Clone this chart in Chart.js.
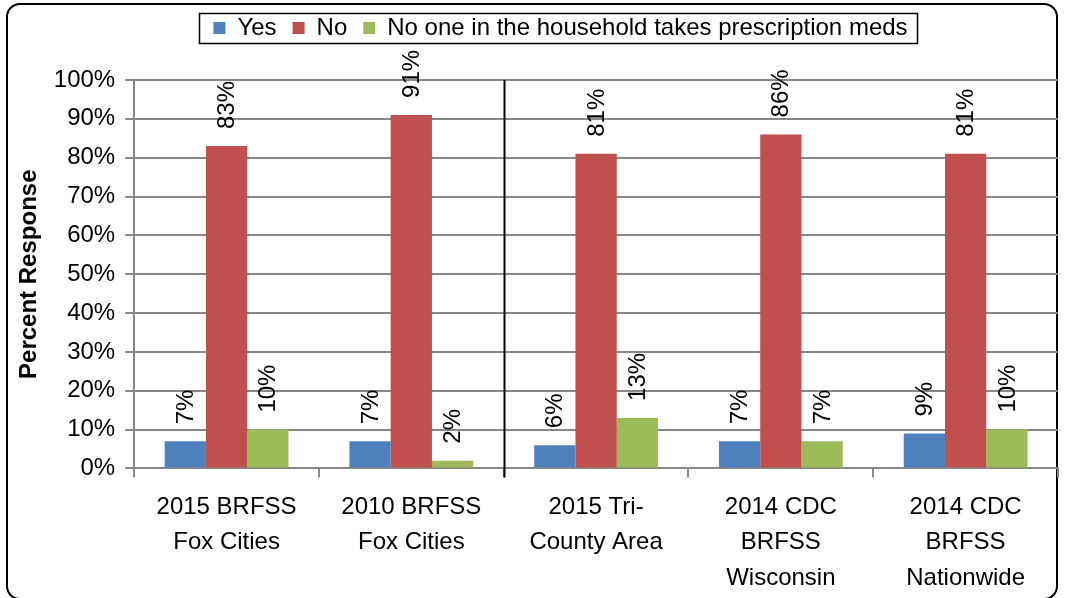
<!DOCTYPE html>
<html>
<head>
<meta charset="utf-8">
<script src="https://cdn.jsdelivr.net/npm/chart.js@4"></script>
<style>
  html, body { margin: 0; padding: 0; background: #fff; }
  #wrap { position: relative; width: 1065px; height: 598px; }
  #frame { position: absolute; left: 6px; top: 3px; width: 1052px; height: 597px;
           border: 2px solid #000; border-radius: 14px; box-sizing: border-box; }
  canvas { position: absolute; left: 0; top: 0; }
</style>
</head>
<body>
<div id="wrap">
  <div id="frame"></div>
  <canvas id="chart" width="1065" height="598"></canvas>
</div>
<script>
const categories = [
  ['2015 BRFSS', 'Fox Cities'],
  ['2010 BRFSS', 'Fox Cities'],
  ['2015 Tri-', 'County Area'],
  ['2014 CDC', 'BRFSS', 'Wisconsin'],
  ['2014 CDC', 'BRFSS', 'Nationwide']
];
const yesValues = [7, 7, 6, 7, 9];
const noValues = [83, 91, 81, 86, 81];
const noneValues = [10, 2, 13, 7, 10];
const yTicks = [0, 10, 20, 30, 40, 50, 60, 70, 80, 90, 100];

const FONT = "'Liberation Sans', 'DejaVu Sans', sans-serif";
const SIZE = 24;

// rotated value labels above each bar
const barLabels = {
  id: 'barLabels',
  afterDatasetsDraw(chart) {
    const ctx = chart.ctx;
    ctx.save();
    ctx.font = SIZE + 'px ' + FONT;
    ctx.fillStyle = '#000';
    ctx.textAlign = 'left';
    ctx.textBaseline = 'middle';
    chart.data.datasets.forEach((ds, i) => {
      chart.getDatasetMeta(i).data.forEach((bar, j) => {
        ctx.save();
        ctx.translate(bar.x + 1, bar.y - 17);
        ctx.rotate(-Math.PI / 2);
        ctx.fillText(ds.data[j] + '%', 0, 0);
        ctx.restore();
      });
    });
    ctx.restore();
  }
};

// legend sits a bit right of the canvas centre in the original
const legendShift = {
  id: 'legendShift',
  afterLayout(chart) {
    chart.legend.left += 24;
    chart.legend.right += 24;
  }
};

// border round the legend items and the black divider between group 2 and 3
const extras = {
  id: 'extras',
  afterDraw(chart) {
    const ctx = chart.ctx;
    const boxes = chart.legend.legendHitBoxes;
    const l = Math.min(...boxes.map(b => b.left)) - 14;
    const r = Math.max(...boxes.map(b => b.left + b.width)) + 10;
    const t = Math.min(...boxes.map(b => b.top)) - 3;
    const btm = Math.max(...boxes.map(b => b.top + b.height)) + 3;
    ctx.save();
    ctx.strokeStyle = '#000';
    ctx.lineWidth = 1.5;
    ctx.strokeRect(Math.round(l) + 0.5, Math.round(t) + 0.5, Math.round(r - l), Math.round(btm - t));
    const x = chart.scales.x;
    const sx = Math.round((x.getPixelForTick(1) + x.getPixelForTick(2)) / 2) + 0.5;
    ctx.lineWidth = 2;
    ctx.beginPath();
    ctx.moveTo(sx, chart.chartArea.top);
    ctx.lineTo(sx, chart.chartArea.bottom + 9);
    ctx.stroke();
    ctx.restore();
  }
};

new Chart(document.getElementById('chart'), {
  type: 'bar',
  data: {
    labels: categories,
    datasets: [
      { label: 'Yes', data: yesValues, backgroundColor: '#4f81bd' },
      { label: 'No', data: noValues, backgroundColor: '#c0504d' },
      { label: 'No one in the household takes prescription meds', data: noneValues, backgroundColor: '#9bbb59' }
    ]
  },
  options: {
    responsive: false,
    animation: false,
    layout: { padding: { top: 0, right: 7, left: 15, bottom: -10 } },
    datasets: { bar: { categoryPercentage: 0.67, barPercentage: 1 } },
    plugins: {
      legend: {
        position: 'top',
        labels: {
          boxWidth: 12, boxHeight: 12, padding: 16,
          color: '#000',
          font: { family: FONT, size: SIZE }
        }
      },
      // empty spacer between legend and plot
      subtitle: { display: true, text: '', weight: 500, font: { size: 10, lineHeight: 1 }, padding: { top: 20, bottom: 0 } },
      tooltip: { enabled: false }
    },
    scales: {
      x: {
        grid: { drawOnChartArea: false, offset: true, tickLength: 9, color: '#888', lineWidth: 2 },
        border: { color: '#888', width: 2 },
        ticks: { color: '#000', font: { family: FONT, size: SIZE, lineHeight: 1.48 }, maxRotation: 0, padding: 12 }
      },
      y: {
        min: 0, max: 100,
        afterBuildTicks(axis) { axis.ticks = yTicks.map(v => ({ value: v })); },
        grid: { color: '#888', tickLength: 9, lineWidth: 2 },
        border: { color: '#888', width: 2 },
        title: { display: true, text: 'Percent Response', color: '#000', font: { family: FONT, size: SIZE, weight: 'bold' }, padding: 0 },
        ticks: { color: '#000', font: { family: FONT, size: SIZE }, padding: 10, callback: v => v + '%' }
      }
    }
  },
  plugins: [barLabels, legendShift, extras]
});
</script>
</body>
</html>
